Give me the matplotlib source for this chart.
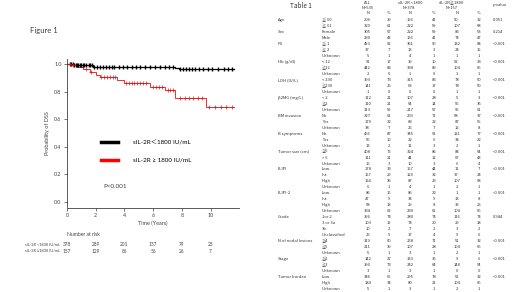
import numpy as np
import matplotlib.pyplot as plt
from matplotlib.lines import Line2D

# KM curves (step data)
black_t = [0, 0.5, 1.0, 1.8, 7.5, 7.8, 11.6]
black_s = [1.0, 0.995, 0.99, 0.98, 0.97, 0.962, 0.962]
red_t = [0, 0.3, 0.7, 1.1, 1.6, 2.0, 2.3, 3.45, 4.0, 5.8, 6.85, 7.5, 9.65, 11.6]
red_s = [1.0, 0.99, 0.98, 0.962, 0.944, 0.92, 0.906, 0.885, 0.86, 0.831, 0.812, 0.756, 0.686, 0.686]
black_cens = [0.2, 0.3, 0.4, 0.5, 0.6, 0.7, 0.8, 0.9, 1.0, 1.1, 1.2, 1.35, 1.5, 1.6, 1.75, 1.9,
              2.1, 2.3, 2.5, 2.7, 2.9, 3.1, 3.3, 3.6, 3.9, 4.2, 4.5, 4.8, 5.1, 5.4, 5.8, 6.1,
              6.5, 6.8, 7.1, 7.4, 7.9, 8.1, 8.3, 8.5, 8.7, 8.9, 9.2, 9.5, 9.8, 10.1, 10.5,
              10.9, 11.2, 11.5]
red_cens = [0.2, 0.4, 1.3, 1.7, 2.4, 2.6, 2.8, 3.0, 3.2, 3.35, 4.1, 4.3, 4.5, 4.7, 4.9, 5.1,
            5.3, 5.5, 6.0, 6.2, 6.4, 6.6, 7.0, 7.2, 7.4, 7.9, 8.2, 8.5, 8.8, 9.1, 9.4,
            9.9, 10.3, 10.7, 11.1, 11.5]

risk_times = [0, 2, 4, 6, 8, 10]
risk_low = [378, 289, 201, 137, 79, 25]
risk_high = [157, 129, 86, 56, 26, 7]

# Table 1
groups = ["Age", "", "Sex", "", "PS", "", "", "Hb (g/dl)", "", "", "LDH (IU/L)", "", "",
          "β2MG (mg/L)", "", "", "BM invasion", "", "", "B symptoms", "", "",
          "Tumor size (cm)", "", "", "FLIPI", "", "", "", "FLIPI-2", "", "", "",
          "Grade", "", "", "", "N of nodal lesions", "", "", "Stage", "", "",
          "Tumor burden", "", ""]
levels = ["≦ 60", "≧ 61", "Female", "Male", "≦ 1", "≧ 2", "Unknown", "< 12", "≧12", "Unknown",
          "< 230", "≧230", "Unknown", "< 2", "≧2", "Unknown", "No", "Yes", "Unknown",
          "No", "Yes", "Unknown", "≦6", "> 6", "Unknown", "Low", "Int.", "High", "Unknown",
          "Low", "Int.", "High", "Unknown", "1or 2", "3 or 3a", "3b", "Unclassified",
          "≦4", "≧5", "Unknown", "≦2", "≧3", "Unknown", "Low", "High", "Unknown"]
all_n = [206, 329, 305, 230, 493, 37, 5, 91, 442, 2, 393, 141, 1, 112, 110, 313, 327, 170, 38,
         466, 56, 13, 408, 111, 16, 178, 157, 194, 6, 86, 47, 68, 334, 396, 103, 10, 26,
         319, 211, 5, 142, 390, 3, 346, 184, 5]
all_pct = [39, 61, 57, 43, 92, 7, 1, 17, 83, 0, 73, 26, 0, 21, 21, 59, 61, 32, 7,
           87, 10, 2, 76, 21, 3, 33, 29, 36, 1, 16, 9, 13, 62, 74, 19, 2, 5,
           60, 39, 1, 27, 73, 1, 65, 34, 1]
low_n = [156, 222, 222, 156, 361, 13, 4, 39, 338, 1, 315, 63, 0, 107, 54, 217, 269, 83, 26,
         345, 22, 11, 324, 44, 10, 167, 120, 87, 4, 85, 34, 29, 230, 280, 74, 7, 17,
         268, 107, 3, 133, 242, 3, 295, 80, 3]
low_pct = [41, 59, 59, 41, 96, 3, 1, 10, 89, 0, 83, 17, 0, 28, 14, 57, 71, 22, 7,
           91, 6, 3, 86, 12, 3, 44, 32, 23, 1, 22, 9, 8, 61, 74, 20, 2, 4,
           71, 28, 1, 35, 64, 1, 78, 21, 1]
high_n = [50, 107, 83, 74, 132, 24, 1, 52, 104, 1, 78, 78, 1, 5, 56, 96, 58, 87, 12,
          121, 34, 2, 84, 67, 6, 11, 37, 107, 2, 1, 13, 39, 104, 116, 29, 3, 9,
          51, 104, 2, 9, 148, 0, 51, 104, 2]
high_pct = [32, 68, 53, 47, 84, 15, 1, 33, 66, 1, 50, 50, 1, 3, 36, 61, 37, 55, 8,
            77, 22, 1, 54, 43, 4, 7, 24, 68, 1, 1, 8, 25, 66, 74, 18, 2, 6,
            32, 66, 1, 6, 94, 0, 32, 66, 1]
pvals = ["0.051", "", "0.214", "", "<0.001", "", "", "<0.001", "", "", "<0.001", "", "",
         "<0.001", "", "", "<0.001", "", "", "<0.001", "", "", "<0.001", "", "",
         "<0.001", "", "", "", "<0.001", "", "", "", "0.944", "", "", "",
         "<0.001", "", "", "<0.001", "", "", "<0.001", "", ""]

txt_font = ['Lato', 'Noto Sans CJK JP', 'DejaVu Sans']
tab_font = ['Noto Sans CJK JP', 'DejaVu Sans']
grey = '#404040'
tgrey = '#333333'

fig = plt.figure(figsize=(5.2, 2.92), dpi=100)

# overlay in pixel coords for free text and table
ov = fig.add_axes([0, 0, 1, 1])
ov.set_xlim(0, 520)
ov.set_ylim(292, 0)
ov.axis('off')
ov.text(30, 30, "Figure 1", fontsize=5.5, family=txt_font, color=grey, va='center')

# KM axes
ax = fig.add_axes([67 / 520, 1 - 207.5 / 292, 172.3 / 520, 149 / 292])


def step_at(ts, ss, x):
    idx = np.searchsorted(ts, x, side='right') - 1
    return np.array(ss)[idx]


ax.step(black_t, black_s, where='post', color='black', lw=0.9)
ax.step(red_t, red_s, where='post', color='#ee1111', lw=0.6)
ax.plot(black_cens, step_at(black_t, black_s, black_cens), ls='none', marker='|',
        color='black', ms=2.5, mew=1.0)
ax.plot(red_cens, step_at(red_t, red_s, red_cens), ls='none', marker='+',
        color='#ee1111', ms=2.5, mew=0.5)

ax.set_xlim(0, 12)
ax.set_ylim(-0.04, 1.04)
ax.set_xticks(risk_times)
ax.set_yticks([0.0, 0.2, 0.4, 0.6, 0.8, 1.0])
ax.set_yticklabels(["0.0", "0.2", "0.4", "0.6", "0.8", "1.0"])
ax.tick_params(labelsize=3.8, colors=grey, length=2, width=0.5, pad=2)
for lab in ax.get_xticklabels() + ax.get_yticklabels():
    lab.set_family(txt_font)
for s in ['top', 'right']:
    ax.spines[s].set_visible(False)
for s in ['left', 'bottom']:
    ax.spines[s].set_color(grey)
    ax.spines[s].set_linewidth(0.6)
ax.set_xlabel("Time (Years)", fontsize=4, family=txt_font, color=grey, labelpad=2)
ax.set_ylabel("Probability of DSS", fontsize=4, family=txt_font, color=grey, labelpad=3)

handles = [Line2D([], [], color='black', lw=2.5), Line2D([], [], color='#ff0000', lw=2.5)]
ax.legend(handles, ["sIL-2R＜1800 IU/mL", "sIL-2R ≥ 1800 IU/mL"], loc='upper left',
          bbox_to_anchor=(0.2, 0.455), frameon=False, borderpad=0, borderaxespad=0,
          handlelength=2.7, handletextpad=2.3, labelspacing=2.0,
          prop={'family': txt_font, 'size': 4.5})
ax.text(0.21, 0.14, "P<0.001", transform=ax.transAxes, fontsize=4.5, family=txt_font,
        color=grey, va='center')

# number at risk
ax.text(-0.02, -0.178, "Number at risk", transform=ax.get_xaxis_transform(), fontsize=3.6,
        family=txt_font, color=grey, va='center', clip_on=False)
ax.text(-0.5, -0.25, "sIL-2R <1800 IU/mL", transform=ax.get_xaxis_transform(), fontsize=2.8,
        family=txt_font, color=grey, va='center', ha='right', clip_on=False)
ax.text(-0.5, -0.294, "sIL-2R ≥1800 IU/mL", transform=ax.get_xaxis_transform(), fontsize=2.8,
        family=txt_font, color=grey, va='center', ha='right', clip_on=False)
for t, a, b in zip(risk_times, risk_low, risk_high):
    ax.text(t, -0.25, str(a), transform=ax.get_xaxis_transform(), fontsize=3.4,
            family=txt_font, color=grey, va='center', ha='center', clip_on=False)
    ax.text(t, -0.294, str(b), transform=ax.get_xaxis_transform(), fontsize=3.4,
            family=txt_font, color=grey, va='center', ha='center', clip_on=False)

# Table 1
fs = 3.0
ov.text(290, 6, "Table 1", fontsize=4.6, family=tab_font, color=tgrey, va='center')
ov.text(367.7, 2.7, "ALL", fontsize=fs, family=tab_font, color=tgrey, va='center', ha='center')
ov.text(367.7, 7.7, "N=535", fontsize=fs, family=tab_font, color=tgrey, va='center', ha='center')
ov.text(410, 2.7, "sIL-2R <1800", fontsize=fs, family=tab_font, color=tgrey, va='center', ha='center')
ov.text(409, 7.7, "N=378", fontsize=fs, family=tab_font, color=tgrey, va='center', ha='center')
ov.text(452, 2.7, "sIL-2R≧1800", fontsize=fs, family=tab_font, color=tgrey, va='center', ha='center')
ov.text(451.5, 7.7, "N=157", fontsize=fs, family=tab_font, color=tgrey, va='center', ha='center')
ov.text(493, 5, "p.value", fontsize=fs, family=tab_font, color=tgrey, va='center')
col_x = [367.7, 389, 410, 434, 456.7, 479]
for cx, h in zip(col_x, ["N", "%", "N", "%", "N", "%"]):
    ov.text(cx, 13.5, h, fontsize=fs, family=tab_font, color=tgrey, va='center', ha='center')

for i in range(len(levels)):
    y = 20 + i * 5.98
    if groups[i]:
        ov.text(278, y, groups[i], fontsize=fs, family=tab_font, color=tgrey, va='center')
    ov.text(321.7, y, levels[i], fontsize=fs, family=tab_font, color=tgrey, va='center')
    vals = [all_n[i], all_pct[i], low_n[i], low_pct[i], high_n[i], high_pct[i]]
    for cx, v in zip(col_x, vals):
        ov.text(cx, y, str(v), fontsize=fs, family=tab_font, color=tgrey, va='center', ha='center')
    if pvals[i]:
        ov.text(493, y, pvals[i], fontsize=fs, family=tab_font, color=tgrey, va='center')

fig.savefig("out.png", dpi=100)
